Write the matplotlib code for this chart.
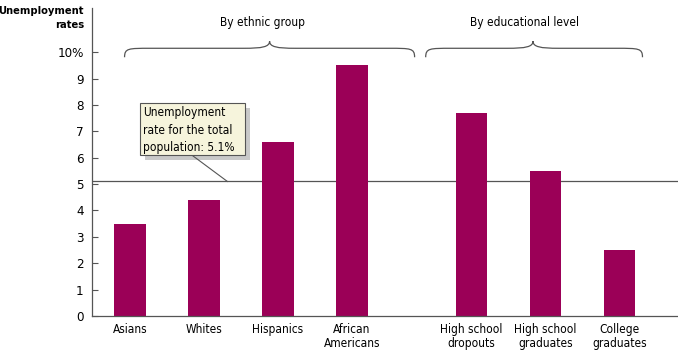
import numpy as np
import matplotlib.pyplot as plt
from matplotlib.path import Path
from matplotlib.patches import PathPatch, Rectangle

plt.rcParams['font.family'] = ['DejaVu Sans']
plt.rcParams['font.stretch'] = 'condensed'

categories = ["Asians", "Whites", "Hispanics", "African\nAmericans",
              "High school\ndropouts", "High school\ngraduates", "College\ngraduates"]
rates = [3.5, 4.4, 6.6, 9.5, 7.7, 5.5, 2.5]
positions = [0, 1, 2, 3, 4.62, 5.62, 6.62]
total_rate = 5.1
ytick_vals = [0, 1, 2, 3, 4, 5, 6, 7, 8, 9, 10]
ytick_labels = ["0", "1", "2", "3", "4", "5", "6", "7", "8", "9", "10%"]

bar_color = "#9b0057"
line_color = "#555555"
fs = 8.6

fig = plt.figure(figsize=(6.78, 3.53), dpi=100)
ax = fig.add_axes([0.1357, 0.1048, 0.8643, 0.872])

ax.bar(positions, rates, width=0.43, color=bar_color, zorder=2)
ax.axhline(total_rate, color=line_color, lw=0.9, zorder=1)

ax.set_xlim(-0.51, 7.41)
ax.set_ylim(0, 11.67)
ax.set_yticks(ytick_vals)
ax.set_yticklabels(ytick_labels, fontsize=9.5)
ax.tick_params(axis='y', direction='in', length=4, color=line_color, pad=6)
ax.set_xticks(positions)
ax.set_xticklabels(categories, fontsize=fs, linespacing=1.15)
ax.tick_params(axis='x', length=0, pad=5)
for s in ["top", "right"]:
    ax.spines[s].set_visible(False)
for s in ["left", "bottom"]:
    ax.spines[s].set_color(line_color)
    ax.spines[s].set_linewidth(0.9)

fig.text(0.124, 0.982, "Unemployment\nrates", ha='right', va='top',
         fontsize=8, fontweight='bold', linespacing=1.5)


def brace(x0, x1, xm, ylow=9.81, ymid=10.15, ytop=10.42):
    d = 0.35
    verts = [(x0, ylow),
             (x0, ymid), (x0 + 0.05, ymid), (x0 + d, ymid),
             (xm - d, ymid),
             (xm - 0.1, ymid), (xm, ymid + 0.05), (xm, ytop),
             (xm, ymid + 0.05), (xm + 0.1, ymid), (xm + d, ymid),
             (x1 - d, ymid),
             (x1 - 0.05, ymid), (x1, ymid), (x1, ylow)]
    codes = [Path.MOVETO,
             Path.CURVE4, Path.CURVE4, Path.CURVE4,
             Path.LINETO,
             Path.CURVE4, Path.CURVE4, Path.CURVE4,
             Path.CURVE4, Path.CURVE4, Path.CURVE4,
             Path.LINETO,
             Path.CURVE4, Path.CURVE4, Path.CURVE4]
    ax.add_patch(PathPatch(Path(verts, codes), fill=False, ec=line_color,
                           lw=0.9, clip_on=False))


brace(-0.07, 3.85, 1.89)
brace(4.0, 6.93, 5.45)
ax.text(1.80, 11.14, "By ethnic group", ha='center', va='center', fontsize=fs)
ax.text(5.34, 11.14, "By educational level", ha='center', va='center', fontsize=fs)

# callout box
ax.add_patch(Rectangle((0.2, 5.9), 1.42, 1.97, fc="#c9c9c9", ec='none', zorder=3))
ax.add_patch(Rectangle((0.135, 6.10), 1.42, 1.97, fc="#f6f4dc", ec=line_color,
                       lw=0.8, zorder=4))
ax.plot([0.84, 1.32], [6.10, total_rate], color=line_color, lw=0.8, zorder=3)
ax.text(0.18, 7.95, "Unemployment\nrate for the total\npopulation: 5.1%",
        ha='left', va='top', fontsize=fs, linespacing=1.45, zorder=5)

fig.savefig("out.png", dpi=100)
